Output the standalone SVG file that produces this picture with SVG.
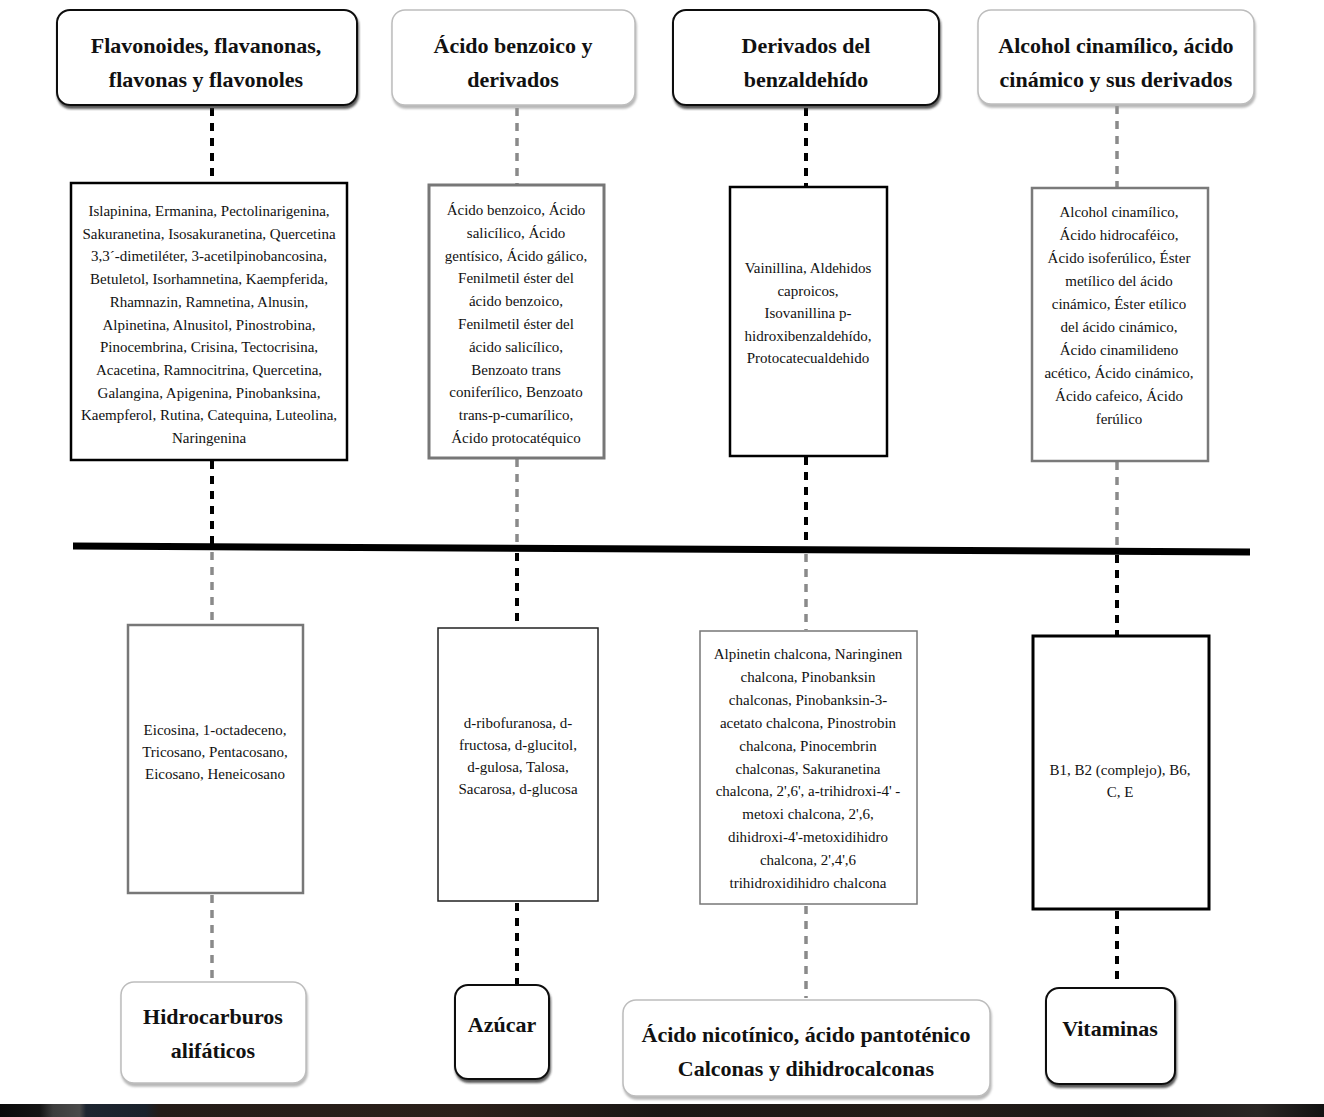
<svg xmlns="http://www.w3.org/2000/svg" width="1324" height="1117" viewBox="0 0 1324 1117">
<style>
.hd{font-family:"Liberation Serif",serif;font-weight:bold;font-size:22px;fill:#111;text-anchor:middle}
.bt{font-family:"Liberation Serif",serif;font-size:15px;fill:#111;text-anchor:middle}
.hb{fill:#fff;stroke:#111;stroke-width:2;filter:url(#sh)}
.hg{fill:#fff;stroke:#bdbdbd;stroke-width:1.5;filter:url(#shl)}
.bk{stroke:#000;stroke-width:4;stroke-dasharray:8 7;fill:none}
.gr{stroke:#8a8a8a;stroke-width:3.5;stroke-dasharray:8 7;fill:none}
</style>
<defs>
<filter id="sh" x="-10%" y="-10%" width="120%" height="130%"><feDropShadow dx="1" dy="3" stdDeviation="1.2" flood-color="#333" flood-opacity="0.8"/></filter>
<filter id="shl" x="-10%" y="-10%" width="120%" height="130%"><feDropShadow dx="1" dy="3" stdDeviation="1.2" flood-color="#999" flood-opacity="0.7"/></filter>
<linearGradient id="strip" x1="0" x2="1" y1="0" y2="0">
<stop offset="0" stop-color="#0a0a0a"/><stop offset="0.03" stop-color="#141414"/><stop offset="0.04" stop-color="#3c3c3c"/><stop offset="0.06" stop-color="#4a4a4a"/><stop offset="0.065" stop-color="#1d2530"/><stop offset="0.11" stop-color="#1a222c"/><stop offset="0.12" stop-color="#241c18"/><stop offset="0.35" stop-color="#2b201a"/><stop offset="0.5" stop-color="#1b1715"/><stop offset="0.7" stop-color="#241c17"/><stop offset="0.85" stop-color="#1a1818"/><stop offset="0.95" stop-color="#2a2624"/><stop offset="1" stop-color="#121212"/>
</linearGradient>
</defs>
<rect x="0" y="0" width="1324" height="1117" fill="#fff"/>

<g id="connectors">
<line class="bk" x1="212" y1="108" x2="212" y2="182"/>
<line class="gr" x1="517" y1="108" x2="517" y2="184"/>
<line class="bk" x1="806" y1="108" x2="806" y2="186"/>
<line class="gr" x1="1117" y1="106" x2="1117" y2="187"/>
<line class="bk" x1="212" y1="461" x2="212" y2="546"/>
<line class="gr" x1="517" y1="459" x2="517" y2="547"/>
<line class="bk" x1="806" y1="457" x2="806" y2="548"/>
<line class="gr" x1="1117" y1="462" x2="1117" y2="550"/>
<line x1="73" y1="546" x2="1250" y2="552" stroke="#000" stroke-width="7"/>
<line class="gr" x1="212" y1="552" x2="212" y2="624"/>
<line class="bk" x1="517" y1="553" x2="517" y2="627"/>
<line class="gr" x1="806" y1="554" x2="806" y2="630"/>
<line class="bk" x1="1117" y1="555" x2="1117" y2="635"/>
<line class="gr" x1="212" y1="895" x2="212" y2="980"/>
<line class="bk" x1="517" y1="903" x2="517" y2="984"/>
<line class="gr" x1="806" y1="906" x2="806" y2="998"/>
<line class="bk" x1="1117" y1="911" x2="1117" y2="986"/>
</g>

<g id="h1"><rect class="hb" x="57" y="10" width="300" height="95" rx="13"/>
<text class="hd" x="206" y="53">Flavonoides, flavanonas,</text><text class="hd" x="206" y="87">flavonas y flavonoles</text></g>
<g id="h2"><rect class="hg" x="392" y="10" width="243" height="95" rx="13"/>
<text class="hd" x="513" y="53">Ácido benzoico y</text><text class="hd" x="513" y="87">derivados</text></g>
<g id="h3"><rect class="hb" x="673" y="10" width="266" height="95" rx="13"/>
<text class="hd" x="806" y="53">Derivados del</text><text class="hd" x="806" y="87">benzaldehído</text></g>
<g id="h4"><rect class="hg" x="978" y="10" width="276" height="94" rx="13"/>
<text class="hd" x="1116" y="53">Alcohol cinamílico, ácido</text><text class="hd" x="1116" y="87">cinámico y sus derivados</text></g>

<g id="bA"><rect x="71" y="183" width="276" height="277" fill="#fff" stroke="#000" stroke-width="2.5"/>
<text class="bt" x="209" y="216">Islapinina, Ermanina, Pectolinarigenina,</text>
<text class="bt" x="209" y="238.7">Sakuranetina, Isosakuranetina, Quercetina</text>
<text class="bt" x="209" y="261.4">3,3´-dimetiléter, 3-acetilpinobancosina,</text>
<text class="bt" x="209" y="284.1">Betuletol, Isorhamnetina, Kaempferida,</text>
<text class="bt" x="209" y="306.8">Rhamnazin, Ramnetina, Alnusin,</text>
<text class="bt" x="209" y="329.5">Alpinetina, Alnusitol, Pinostrobina,</text>
<text class="bt" x="209" y="352.2">Pinocembrina, Crisina, Tectocrisina,</text>
<text class="bt" x="209" y="374.9">Acacetina, Ramnocitrina, Quercetina,</text>
<text class="bt" x="209" y="397.6">Galangina, Apigenina, Pinobanksina,</text>
<text class="bt" x="209" y="420.3">Kaempferol, Rutina, Catequina, Luteolina,</text>
<text class="bt" x="209" y="443">Naringenina</text></g>

<g id="bB"><rect x="429" y="185" width="175" height="273" fill="#fff" stroke="#777" stroke-width="3"/>
<text class="bt" x="516" y="215">Ácido benzoico, Ácido</text>
<text class="bt" x="516" y="237.8">salicílico, Ácido</text>
<text class="bt" x="516" y="260.6">gentísico, Ácido gálico,</text>
<text class="bt" x="516" y="283.4">Fenilmetil éster del</text>
<text class="bt" x="516" y="306.2">ácido benzoico,</text>
<text class="bt" x="516" y="329">Fenilmetil éster del</text>
<text class="bt" x="516" y="351.8">ácido salicílico,</text>
<text class="bt" x="516" y="374.6">Benzoato trans</text>
<text class="bt" x="516" y="397.4">coniferílico, Benzoato</text>
<text class="bt" x="516" y="420.2">trans-p-cumarílico,</text>
<text class="bt" x="516" y="443">Ácido protocatéquico</text></g>

<g id="bC"><rect x="730" y="187" width="157" height="269" fill="#fff" stroke="#000" stroke-width="2.5"/>
<text class="bt" x="808" y="273">Vainillina, Aldehidos</text>
<text class="bt" x="808" y="295.5">caproicos,</text>
<text class="bt" x="808" y="318">Isovanillina p-</text>
<text class="bt" x="808" y="340.5">hidroxibenzaldehído,</text>
<text class="bt" x="808" y="363">Protocatecualdehido</text></g>

<g id="bD"><rect x="1032" y="188" width="176" height="273" fill="#fff" stroke="#7a7a7a" stroke-width="2.5"/>
<text class="bt" x="1119" y="217">Alcohol cinamílico,</text>
<text class="bt" x="1119" y="240">Ácido hidrocaféico,</text>
<text class="bt" x="1119" y="263">Ácido isoferúlico, Éster</text>
<text class="bt" x="1119" y="286">metílico del ácido</text>
<text class="bt" x="1119" y="309">cinámico, Éster etílico</text>
<text class="bt" x="1119" y="332">del ácido cinámico,</text>
<text class="bt" x="1119" y="355">Ácido cinamilideno</text>
<text class="bt" x="1119" y="378">acético, Ácido cinámico,</text>
<text class="bt" x="1119" y="401">Ácido cafeico, Ácido</text>
<text class="bt" x="1119" y="424">ferúlico</text></g>

<g id="bE"><rect x="128" y="625" width="175" height="268" fill="#fff" stroke="#777" stroke-width="2.5"/>
<text class="bt" x="215" y="735">Eicosina, 1-octadeceno,</text>
<text class="bt" x="215" y="757">Tricosano, Pentacosano,</text>
<text class="bt" x="215" y="779">Eicosano, Heneicosano</text></g>

<g id="bF"><rect x="438" y="628" width="160" height="273" fill="#fff" stroke="#222" stroke-width="1.5"/>
<text class="bt" x="518" y="728">d-ribofuranosa, d-</text>
<text class="bt" x="518" y="750">fructosa, d-glucitol,</text>
<text class="bt" x="518" y="772">d-gulosa, Talosa,</text>
<text class="bt" x="518" y="794">Sacarosa, d-glucosa</text></g>

<g id="bG"><rect x="700" y="631" width="217" height="273" fill="#fff" stroke="#777" stroke-width="1.5"/>
<text class="bt" x="808" y="659">Alpinetin chalcona, Naringinen</text>
<text class="bt" x="808" y="681.9">chalcona, Pinobanksin</text>
<text class="bt" x="808" y="704.8">chalconas, Pinobanksin-3-</text>
<text class="bt" x="808" y="727.7">acetato chalcona, Pinostrobin</text>
<text class="bt" x="808" y="750.6">chalcona, Pinocembrin</text>
<text class="bt" x="808" y="773.5">chalconas, Sakuranetina</text>
<text class="bt" x="808" y="796.4">chalcona, 2',6', a-trihidroxi-4' -</text>
<text class="bt" x="808" y="819.3">metoxi chalcona, 2',6,</text>
<text class="bt" x="808" y="842.2">dihidroxi-4'-metoxidihidro</text>
<text class="bt" x="808" y="865.1">chalcona, 2',4',6</text>
<text class="bt" x="808" y="888">trihidroxidihidro chalcona</text></g>

<g id="bH"><rect x="1033" y="636" width="176" height="273" fill="#fff" stroke="#000" stroke-width="3"/>
<text class="bt" x="1120" y="775">B1, B2 (complejo), B6,</text>
<text class="bt" x="1120" y="797">C, E</text></g>

<g id="f1"><rect class="hg" x="121" y="982" width="185" height="101" rx="13"/>
<text class="hd" x="213" y="1024">Hidrocarburos</text><text class="hd" x="213" y="1058">alifáticos</text></g>
<g id="f2"><rect class="hb" x="455" y="985" width="94" height="94" rx="13"/>
<text class="hd" x="502" y="1032">Azúcar</text></g>
<g id="f3"><rect class="hg" x="623" y="1000" width="367" height="96" rx="13"/>
<text class="hd" x="806" y="1042">Ácido nicotínico, ácido pantoténico</text><text class="hd" x="806" y="1076">Calconas y dihidrocalconas</text></g>
<g id="f4"><rect class="hb" x="1046" y="988" width="129" height="96" rx="13"/>
<text class="hd" x="1110" y="1036">Vitaminas</text></g>

<rect x="0" y="1104" width="1324" height="13" fill="url(#strip)"/>
</svg>
